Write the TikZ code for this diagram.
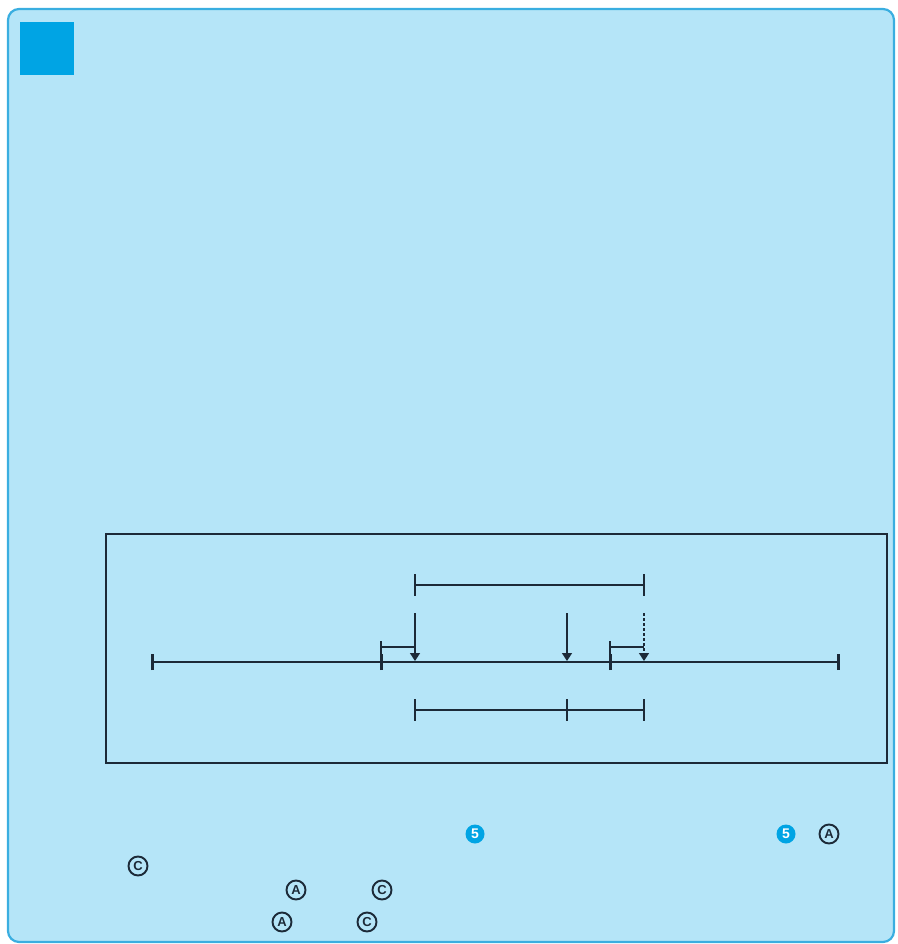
\documentclass[tikz,border=0pt]{standalone}
\usepackage{fontspec}
\setmainfont{Liberation Sans}
\usetikzlibrary{arrows.meta}
\definecolor{bgblue}{HTML}{B5E5F8}
\definecolor{edgeblue}{HTML}{3AAEE0}
\definecolor{boxblue}{HTML}{00A4E4}
\definecolor{ink}{HTML}{1C2A38}
\tikzset{
  ink line/.style={draw=ink, line width=1.5pt},
  axis line/.style={draw=ink, line width=2.8pt},
  pointer/.style={draw=ink, line width=1.5pt, -{Triangle[width=10pt,length=8pt]}},
  circA/.style={circle, draw=ink, line width=1.9pt, inner sep=0pt, minimum size=19pt, font=\bfseries\fontsize{13}{13}\selectfont, text=ink},
  circfive/.style={circle, fill=boxblue, inner sep=0pt, minimum size=19pt, font=\bfseries\fontsize{14}{14}\selectfont, text=white},
}
\begin{document}
\begin{tikzpicture}[x=1pt,y=-1pt]
\useasboundingbox (0,0) rectangle (897,944);
% outer panel
\draw[fill=bgblue, draw=edgeblue, line width=2.2pt, rounded corners=11pt] (8,9) rectangle (894,942);
\fill[boxblue] (20,22) rectangle (74,75);
% inner frame
\draw[draw=ink, line width=2.2pt] (106,534) rectangle (887,763);
% main axis
\coordinate (L) at (152,662);
\coordinate (R) at (838,662);
\coordinate (T1) at (381,662);
\coordinate (T2) at (610,662);
\draw[axis line] (L) -- (R);
\foreach \p in {L,T1,T2,R} {\draw[draw=ink, line width=3pt] ([yshift=-8pt]\p) -- ([yshift=8pt]\p);}
% pointer arrows
\coordinate (a1) at (415,613); \coordinate (b1) at (415,661);
\coordinate (a2) at (567,613); \coordinate (b2) at (567,661);
\coordinate (a3) at (644,613); \coordinate (b3) at (644,661);
\draw[pointer] (a1) -- (b1);
\draw[pointer] (a2) -- (b2);
\draw[pointer, dash pattern=on 3pt off 2pt] (a3) -- (b3);
% small brackets
\coordinate (s1) at (381,641); \coordinate (s1e) at (415,647);
\draw[ink line] (s1) -- (T1);
\draw[ink line] (381,647) -- (s1e);
\coordinate (s2) at (610,641); \coordinate (s2e) at (644,647);
\draw[ink line] (s2) -- (T2);
\draw[ink line] (610,647) -- (s2e);
% top bracket
\coordinate (tb1) at (415,585); \coordinate (tb2) at (644,585);
\draw[ink line] (tb1) -- (tb2);
\draw[ink line] (415,574) -- (415,596);
\draw[ink line] (644,574) -- (644,596);
% bottom bracket
\coordinate (bb1) at (415,710); \coordinate (bb2) at (567,710); \coordinate (bb3) at (644,710);
\draw[ink line] (bb1) -- (bb3);
\foreach \x in {415,567,644} {\draw[ink line] (\x,699) -- (\x,721);}
% circled marks
\node[circfive] (f1) at (475,834) {5};
\node[circfive] (f2) at (786,834) {5};
\node[circA] (A1) at (829,834) {A};
\node[circA] (C1) at (138,866) {C};
\node[circA] (A2) at (296,890) {A};
\node[circA] (C2) at (382,890) {C};
\node[circA] (A3) at (282,922) {A};
\node[circA] (C3) at (367,922) {C};
\end{tikzpicture}
\end{document}
